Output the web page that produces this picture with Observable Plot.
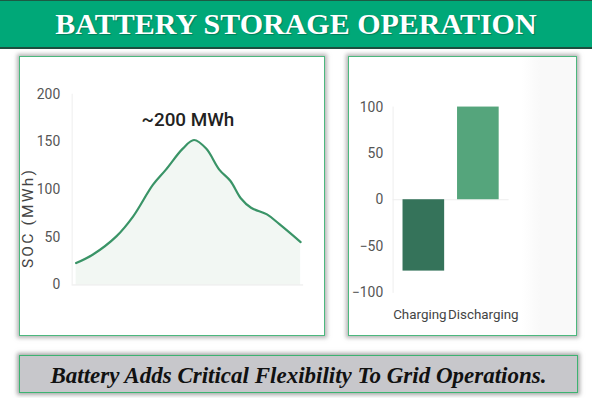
<!DOCTYPE html>
<html>
<head>
<meta charset="utf-8">
<script src="https://cdn.jsdelivr.net/npm/d3@7"></script>
<script src="https://cdn.jsdelivr.net/npm/@observablehq/plot@0.6"></script>
<style>
  html, body { margin: 0; padding: 0; background: #ffffff; }
  #root { position: relative; width: 592px; height: 398px; overflow: hidden; background: #ffffff; }
  #header {
    position: absolute; left: 0; top: 0; width: 592px; height: 46px;
    background: #00a878; border-top: 1px solid #1c5a44; border-bottom: 2px solid #1d4f3f;
    color: #ffffff; font-family: "Liberation Serif", serif; font-weight: bold; font-size: 30px;
    text-align: center; line-height: 46px;
    text-shadow: 1px 1px 1px rgba(0,0,0,0.25);
  }
  .panel {
    position: absolute; box-sizing: border-box; background: #ffffff;
    border: 1.5px solid #4cb87e; box-shadow: 0 0 4px 2px rgba(120,120,120,0.55);
  }
  #left { left: 19px; top: 56px; width: 306px; height: 280px; }
  #right { left: 348px; top: 56px; width: 229px; height: 280px;
    background: linear-gradient(to right, #ffffff 0%, #ffffff 76%, #f9f9f9 84%, #f9f9f9 100%); }
  .panel svg { position: absolute; left: -1.5px; top: -1.5px; }
  #ylabel {
    position: absolute; left: 28px; top: 218px; transform: translate(-50%, -50%) rotate(-90deg);
    font-family: "Roboto", sans-serif; font-size: 15.5px; letter-spacing: 2.2px; color: #444; white-space: nowrap;
  }
  #footer {
    position: absolute; left: 19px; top: 355px; width: 559px; height: 38px; box-sizing: border-box;
    background: #c7c7cb; border: 1.5px solid #3cb371; box-shadow: 0 0 4px 2px rgba(110,110,110,0.6);
    font-family: "Liberation Serif", serif; font-weight: bold; font-style: italic; font-size: 23px;
    color: #111; text-align: center; line-height: 39px;
  }
</style>
</head>
<body>
<div id="root">
  <div id="header">BATTERY STORAGE OPERATION</div>
  <div class="panel" id="left"></div>
  <div class="panel" id="right"></div>
  <div id="ylabel">SOC (MWh)</div>
  <div id="footer">Battery Adds Critical Flexibility To Grid Operations.</div>
</div>
<script>
// ---- Data: state of charge over the day ----
const hours = [0, 1.8, 4.3, 6.1, 8.2, 9.6, 11.4, 12.6, 13.9, 15.3, 16.5, 17.6, 18.7, 20.4, 21.7, 24];
const soc   = [23, 32, 51, 72, 105, 121, 143, 152, 143, 121, 109, 91, 81, 74, 64, 45];
const socTicks = [0, 50, 100, 150, 200];
const capacityLabel = "~200 MWh";

// ---- Data: charging vs discharging ----
const modes = ["Charging", "Discharging"];
const power = [-77, 100];
const modeColors = ["#35735a", "#55a57c"];
const powerTicks = [-100, -50, 0, 50, 100];

const socData = hours.map((h, i) => ({hour: h, soc: soc[i]}));
const powerData = modes.map((m, i) => ({mode: m, value: power[i]}));

const leftPlot = Plot.plot({
  width: 306, height: 280,
  marginLeft: 53, marginRight: 20, marginTop: 38, marginBottom: 50,
  insetLeft: 4, insetRight: 3,
  style: {fontFamily: "Roboto, sans-serif", fontSize: "14px", color: "#555", background: "transparent", overflow: "visible"},
  x: {domain: [0, 24], axis: null},
  y: {domain: [0, 200], ticks: socTicks, tickSize: 0, tickPadding: 12, label: null},
  marks: [
    Plot.areaY(socData, {x: "hour", y: "soc", curve: "catmull-rom", fill: "#f2f7f3"}),
    Plot.ruleY([0], {stroke: "#e9e9e9"}),
    Plot.ruleX([0], {dx: -4, stroke: "#eeeeee"}),
    Plot.lineY(socData, {x: "hour", y: "soc", curve: "catmull-rom", stroke: "#3a9467", strokeWidth: 2.2}),
    Plot.text([capacityLabel], {frameAnchor: "top", dy: 18, fontSize: 19, fill: "#222", fontWeight: 500})
  ]
});
document.getElementById("left").appendChild(leftPlot);

const rightPlot = Plot.plot({
  width: 229, height: 280,
  marginLeft: 45, marginRight: 67, marginTop: 51, marginBottom: 42,
  style: {fontFamily: "Roboto, sans-serif", fontSize: "14px", color: "#555", background: "transparent", overflow: "visible"},
  x: {domain: modes, paddingInner: 0.235, paddingOuter: 0.17, axis: null},
  y: {domain: [-100, 100], ticks: powerTicks, tickSize: 0, tickPadding: 10, label: null},
  color: {domain: modes, range: modeColors},
  marks: [
    Plot.frame({anchor: "left", stroke: "#eeeeee"}),
    Plot.ruleY([0], {stroke: "#eeeeee"}),
    Plot.barY(powerData, {x: "mode", y: "value", fill: "mode"}),
    Plot.text([modes[0]], {x: d => d, frameAnchor: "bottom", dy: 27, dx: -4, fontSize: 13.5, fill: "#444", letterSpacing: "-0.2px"}),
    Plot.text([modes[1]], {x: d => d, frameAnchor: "bottom", dy: 27, dx: 5, fontSize: 13.5, fill: "#444", letterSpacing: "-0.45px"})
  ]
});
document.getElementById("right").appendChild(rightPlot);
</script>
</body>
</html>
